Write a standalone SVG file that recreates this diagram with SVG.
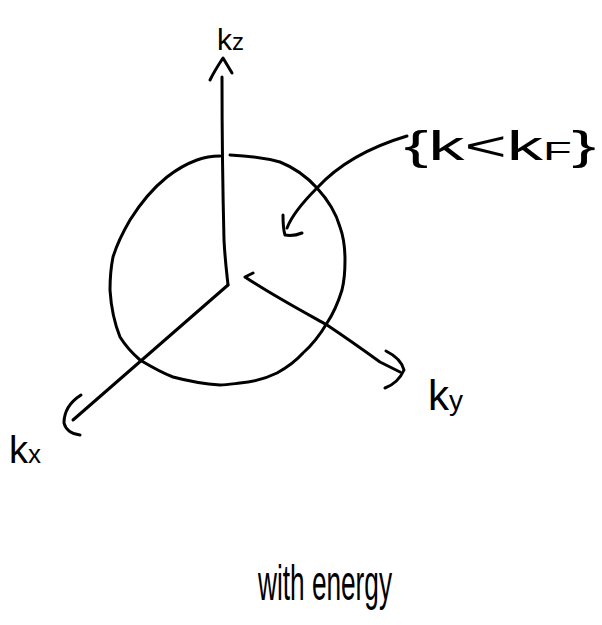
<svg xmlns="http://www.w3.org/2000/svg" width="602" height="625" viewBox="0 0 602 625">
<style>
.ink{fill:none;stroke:#000;stroke-width:3;stroke-linecap:round;stroke-linejoin:round}
.lbl{font-family:"Liberation Sans",Arial,sans-serif;fill:#000}
</style>
<rect width="602" height="625" fill="#fff"/>
<g id="sphere">
<path class="ink" d="M230,155 C250,156 265,158 280,162 C295,168 308,178 317,188 C328,200 336,213 340,227 C344,238 345,247 345,260 C345,272 344,282 342,290 C338,303 333,314 327,323 C320,335 312,345 303,353 C295,362 286,368 277,373 C265,379 252,382 240,383 C232,384 226,385 220,385 C204,384 188,381 173,377 C160,372 150,366 140,360 C132,353 125,345 120,337 C114,322 111,306 110,290 C110,278 111,267 113,257 C117,244 123,232 130,220 C140,204 152,189 167,177 C176,170 186,164 197,160 C205,157 213,156 220,156"/>
</g>
<g id="connectors">
<path class="ink" d="M222,77 C222,140 223,200 224,240 C225,260 227,275 228,285"/>
<path class="ink" d="M210,80 C214,72 219,64 223,58 C226,63 229,68 232,73"/>
<path class="ink" d="M228,285 L73,420"/>
<path class="ink" d="M81,395 C70,402 64,412 64,423 C66,431 72,434 80,435"/>
<path class="ink" d="M253,273 L245,277 C272,295 300,310 327,325 C345,337 362,349 380,362 L400,372"/>
<path class="ink" d="M386,351 C396,356 402,362 404,370 C400,379 393,385 385,388"/>
<path class="ink" d="M407,136 C370,147 340,163 317,188 C303,202 292,215 287,228"/>
<path class="ink" d="M283,215 C283,222 283,229 285,235 C291,236 297,235 302,233"/>
</g>
<g id="labels">
<text class="lbl" x="217" y="50" font-size="30">k<tspan font-size="24">z</tspan></text>
<text class="lbl" x="404" y="160" font-size="40" textLength="192" lengthAdjust="spacingAndGlyphs">{k&lt;k<tspan font-size="26">F</tspan>}</text>
<text class="lbl" x="9" y="463" font-size="38">k<tspan font-size="26">x</tspan></text>
<text class="lbl" x="428" y="410" font-size="42">k<tspan font-size="28">y</tspan></text>
<text class="lbl" x="258" y="600" font-size="50" textLength="134" lengthAdjust="spacingAndGlyphs">with energy</text>
</g>
</svg>
